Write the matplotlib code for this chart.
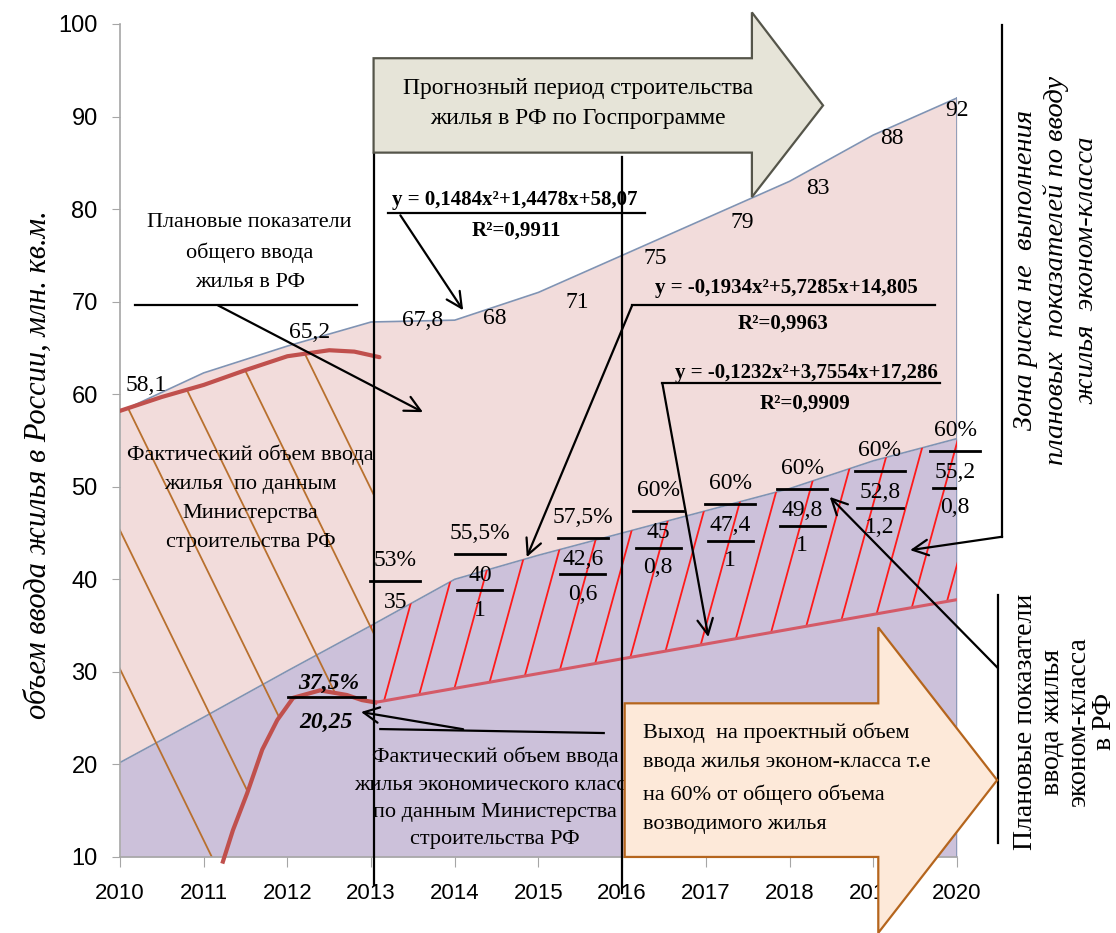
import numpy as np
import matplotlib
matplotlib.use('Agg')
import matplotlib.pyplot as plt
from matplotlib import font_manager
from matplotlib.patches import Polygon

SERIF = 'Liberation Serif'
_installed = {f.name for f in font_manager.fontManager.ttflist}
SANS = 'Liberation Sans Narrow' if 'Liberation Sans Narrow' in _installed else 'Liberation Sans'

# Planned housing commissioning, mln sq.m (state programme)
years = np.arange(2010, 2021)
total_plan = [58.1, 62.3, 65.2, 67.8, 68, 71, 75, 79, 83, 88, 92]
econ_plan = [20.2, 25.1, 30.1, 35, 40, 42.6, 45, 47.4, 49.8, 52.8, 55.2]

# Economy-class share of the total and yearly increment, 2013-2020
share_years = years[3:]
econ_share = ['53%', '55,5%', '57,5%', '60%', '60%', '60%', '60%', '60%']
econ_increment = ['', '1', '0,6', '0,8', '1', '1', '1,2', '0,8']

# Actual commissioning (Ministry of Construction)
fact_total_x = [2010, 2010.5, 2011, 2011.5, 2012, 2012.5, 2012.8, 2013.1]
fact_total_y = [58.2, 59.7, 61.0, 62.6, 64.1, 64.75, 64.6, 64.0]
fact_econ_x = [2011.23, 2011.35, 2011.52, 2011.70, 2011.88, 2012.07, 2012.39, 2012.71, 2012.89, 2013.05]
fact_econ_y = [9.5, 12.9, 16.9, 21.6, 24.8, 27.2, 28.0, 27.5, 26.95, 26.7]
econ_trend_x = [2013.05, 2020]
econ_trend_y = [26.7, 37.8]

# which planned totals get a value label, and where the label sits
total_label_years = [2010, 2012, 2013, 2014, 2015, 2016, 2017, 2018, 2019, 2020]
total_label_dx = [0.31, 0.26, 0.62, 0.48, 0.46, 0.39, 0.43, 0.34, 0.22, 0.0]
total_label_dy = [2.8, 1.5, 0.2, 0.2, -1.1, -0.3, -0.5, -0.8, -0.4, -1.3]
share_dx = [0.29, 0.30, 0.53, 0.43, 0.29, 0.15, 0.08, -0.02]
share_dy = [7.07, 4.99, 4.12, 4.63, 2.99, 2.21, 1.15, 0.91]

PINK = '#F2DCDB'
LAVENDER = '#CCC1DA'
EDGE = '#8093B3'
RED = '#C0504D'
TREND = '#D45A68'
BROWN = '#B8702E'


def fmt(v):
    return f'{v:g}'.replace('.', ',')


plt.rcParams['font.family'] = SERIF

fig = plt.figure(figsize=(11.16, 9.33), dpi=100)
ax = fig.add_axes([0.1075, 0.0815, 0.75, 0.8928])

# planned volumes as stacked areas
ax.fill_between(years, 10, econ_plan, color=LAVENDER, lw=0, zorder=1)
ax.fill_between(years, econ_plan, total_plan, color=PINK, lw=0, zorder=1)
ax.plot(years, total_plan, color=EDGE, lw=1.2, zorder=2)
ax.plot(years, econ_plan, color=EDGE, lw=1.2, zorder=2)
ax.plot([years[-1]] * 2, [10, total_plan[-1]], color=EDGE, lw=1.2, zorder=2)


def hatch(region, anchors, y_ref, slope, color):
    patch = Polygon(region, closed=True, facecolor='none', edgecolor='none')
    ax.add_patch(patch)
    for x0 in anchors:
        xs = np.array([x0 - 3, x0 + 3])
        ln, = ax.plot(xs, y_ref + slope * (xs - x0), color=color, lw=1.3,
                      zorder=2.5, scalex=False, scaley=False)
        ln.set_clip_path(patch)


# brown hatching under the actual total curve, 2010-2013
x_cut = 2013.03
top = [(x, y) for x, y in zip(fact_total_x, fact_total_y) if x < x_cut]
top.append((x_cut, np.interp(x_cut, fact_total_x, fact_total_y)))
bottom = [(x_cut, fact_econ_y[-1])]
bottom += [(x, y) for x, y in zip(fact_econ_x[::-1], fact_econ_y[::-1]) if x < x_cut]
bottom.append((2010, fact_econ_y[0]))
hatch(top + bottom, np.arange(2008.43, 2013.2, 0.81), 59.35, -18.5, BROWN)

# red hatching between the economy-class plan and its actual trend
red_region = list(zip(years[3:], econ_plan[3:])) + list(zip(econ_trend_x[::-1], econ_trend_y[::-1]))
hatch(red_region, np.arange(2012.45, 2020.3, 0.40), 30, 33, '#FF1A1A')

# actual curves
ax.plot(fact_total_x, fact_total_y, color=RED, lw=3, zorder=3, solid_capstyle='round')
ax.plot(fact_econ_x, fact_econ_y, color=RED, lw=3, zorder=3, clip_on=False)
ax.plot(econ_trend_x, econ_trend_y, color=TREND, lw=2.2, zorder=3)

# value labels of the planned total
for yr, dx, dy in zip(total_label_years, total_label_dx, total_label_dy):
    v = total_plan[yr - years[0]]
    ax.text(yr + dx, v + dy, fmt(v), ha='center', va='center', fontsize=17, zorder=5)

# share / volume / increment fractions for the economy class
for i, yr in enumerate(share_years):
    v = econ_plan[yr - years[0]]
    cx, cy = yr + share_dx[i], v + share_dy[i]
    ax.text(cx, cy, econ_share[i], ha='center', va='center', fontsize=17, zorder=5)
    ax.plot([cx - 0.3, cx + 0.3], [cy - 2.3] * 2, color='k', lw=2, zorder=4,
            clip_on=False)
    ax.text(cx, cy - 4.6, fmt(v), ha='center', va='center', fontsize=17, zorder=5)
    if econ_increment[i]:
        ax.plot([cx - 0.27, cx + 0.27], [cy - 6.2] * 2, color='k', lw=2, zorder=4)
        ax.text(cx, cy - 8.4, econ_increment[i], ha='center', va='center',
                fontsize=17, zorder=5)

# 2012 economy-class actual
ax.text(2012.50, 28.8, '37,5%', ha='center', va='center', fontsize=17,
        fontweight='bold', fontstyle='italic', zorder=5)
ax.plot([2012.01, 2012.93], [27.28, 27.28], color='k', lw=2, zorder=4)
ax.text(2012.46, 24.58, '20,25', ha='center', va='center', fontsize=17,
        fontweight='bold', fontstyle='italic', zorder=5)

# period boundaries
ax.plot([2013.03, 2013.03], [86.1, 7.0], color='k', lw=1.6, zorder=4, clip_on=False)
ax.plot([2016.0, 2016.0], [85.6, 6.1], color='k', lw=1.6, zorder=4, clip_on=False)


def arrow(tail, head):
    ax.annotate('', xy=head, xytext=tail, annotation_clip=False, zorder=4,
                arrowprops=dict(arrowstyle='->', color='k', lw=1.6,
                                mutation_scale=28, shrinkA=0, shrinkB=0))


def leader(xs, ys):
    ax.plot(xs, ys, color='k', lw=1.6, zorder=4, clip_on=False)


# forecast period arrow
ax.add_patch(Polygon([(2013.03, 96.3), (2017.55, 96.3), (2017.55, 101.25),
                      (2018.40, 91.2), (2017.55, 81.3), (2017.55, 86.1),
                      (2013.03, 86.1)], closed=True, facecolor='#E6E4D8',
                     edgecolor='#55554A', lw=1.6, zorder=5, clip_on=False))
ax.text(2015.47, 91.4, 'Прогнозный период строительства\nжилья в РФ по Госпрограмме',
        ha='center', va='center', fontsize=17, linespacing=1.55, zorder=6)

# trend equations
ax.text(2014.72, 80.95, 'y = 0,1484x²+1,4478x+58,07', ha='center', va='center',
        fontsize=15, fontweight='bold', zorder=5)
ax.text(2014.74, 77.71, 'R²=0,9911', ha='center', va='center',
        fontsize=15, fontweight='bold', zorder=5)
leader([2013.20, 2016.27], [79.55, 79.55])
arrow((2013.35, 79.33), (2014.10, 69.07))

ax.text(2017.96, 71.45, 'y = -0,1934x²+5,7285x+14,805', ha='center', va='center',
        fontsize=15, fontweight='bold', zorder=5)
ax.text(2017.92, 67.67, 'R²=0,9963', ha='center', va='center',
        fontsize=15, fontweight='bold', zorder=5)
leader([2016.12, 2019.74], [69.61, 69.61])
arrow((2016.12, 69.61), (2014.86, 42.4))

ax.text(2018.20, 62.3, 'y = -0,1232x²+3,7554x+17,286', ha='center', va='center',
        fontsize=15, fontweight='bold', zorder=5)
ax.text(2018.18, 59.03, 'R²=0,9909', ha='center', va='center',
        fontsize=15, fontweight='bold', zorder=5)
leader([2016.48, 2019.80], [61.19, 61.19])
arrow((2016.48, 61.19), (2017.03, 33.76))

# left-hand notes
ax.text(2011.55, 75.3, 'Плановые показатели\nобщего ввода\nжилья в РФ',
        ha='center', va='center', fontsize=16, linespacing=1.7, zorder=5)
leader([2010.18, 2012.83], [69.6, 69.6])
arrow((2011.17, 69.6), (2013.62, 58.06))

ax.text(2011.56, 48.77, 'Фактический объем ввода\nжилья  по данным\nМинистерства\nстроительства РФ',
        ha='center', va='center', fontsize=16, linespacing=1.7, zorder=5)

ax.text(2014.48, 16.37, 'Фактический объем ввода\nжилья экономического класса\nпо данным Министерства\nстроительства РФ',
        ha='center', va='center', fontsize=16, linespacing=1.6, zorder=5)
leader([2013.11, 2015.78], [23.82, 23.39])
arrow((2014.1, 23.8), (2012.88, 25.66))

# target arrow for the economy class
ax.add_patch(Polygon([(2016.03, 26.6), (2019.06, 26.6), (2019.06, 34.8),
                      (2020.48, 18.3), (2019.06, 1.8), (2019.06, 10),
                      (2016.03, 10)], closed=True, facecolor='#FDE9D9',
                     edgecolor='#B5651D', lw=1.6, zorder=6, clip_on=False))
ax.text(2016.25, 18.5, 'Выход  на проектный объем\nввода жилья эконом-класса т.е\n'
        'на 60% от общего объема\nвозводимого жилья',
        ha='left', va='center', fontsize=16, linespacing=1.75, zorder=7)

# right-hand notes
leader([2020.54, 2020.54], [99.85, 44.6])
arrow((2020.54, 44.6), (2019.44, 43.15))
ax.text(2021.18, 73.4, 'Зона риска не  выполнения\nплановых  показателей по вводу\nжилья  эконом-класса',
        ha='center', va='center', rotation=90, fontsize=20.5, fontstyle='italic',
        linespacing=1.25, zorder=5)

leader([2020.49, 2020.49], [38.3, 11.5])
arrow((2020.49, 30.4), (2018.48, 48.9))
ax.text(2021.29, 24.6, 'Плановые показатели\nввода жилья\nэконом-класса\nв РФ',
        ha='center', va='center', rotation=90, fontsize=20, linespacing=1.08, zorder=5)

fig.text(0.034, 0.5016, 'объем ввода жилья в России, млн. кв.м.', rotation=90,
         ha='center', va='center', fontsize=22, fontstyle='italic')

# axes
ax.set_xlim(2010, 2020)
ax.set_ylim(10, 100)
ax.set_xticks(years)
ax.set_yticks(np.arange(10, 101, 10))
for side in ('top', 'right'):
    ax.spines[side].set_visible(False)
for side in ('left', 'bottom'):
    ax.spines[side].set_color('#A6A6A6')
    ax.spines[side].set_linewidth(1.2)
ax.tick_params(axis='y', length=6, pad=10, color='#A6A6A6', labelsize=17)
ax.tick_params(axis='x', length=7, pad=12, color='#A6A6A6', labelsize=16)
for lbl in ax.get_xticklabels() + ax.get_yticklabels():
    lbl.set_fontfamily(SANS)
ax.set_facecolor('white')

fig.savefig('out.png', dpi=100)
